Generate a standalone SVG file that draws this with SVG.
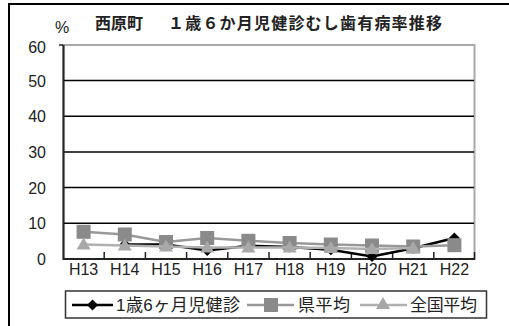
<svg xmlns="http://www.w3.org/2000/svg" width="509" height="326" viewBox="0 0 509 326">
<style>
.num{font-family:"Liberation Sans",Arial,sans-serif;font-size:16px;fill:#222}
.yl{text-anchor:end}
.xl{text-anchor:middle}
.jp{font-family:"Liberation Sans","Noto Sans CJK JP",sans-serif;font-size:17px;fill:#222}
.title{font-family:"Noto Sans CJK JP",sans-serif;font-size:16px;font-weight:bold;fill:#222}
.grid{stroke:#000;stroke-width:1.5}
.town{fill:none;stroke:#000;stroke-width:2.5}
.pref{fill:none;stroke:#999;stroke-width:2.5}
.nat{fill:none;stroke:#b0b0b0;stroke-width:2.5}
.mtown{fill:#000}
.mpref{fill:#8a8a8a}
.mnat{fill:#a8a8a8}
</style>
<defs>
<path id="dia" d="M0,-5.5 L5.5,0 L0,5.5 L-5.5,0 Z"/>
<rect id="sq" x="-7" y="-7" width="14" height="14"/>
<path id="tri" d="M0,-7 L7,5 L-7,5 Z"/>
</defs>
<rect x="0" y="0" width="509" height="326" fill="#fff"/>
<rect id="frame" x="9" y="4" width="520" height="340" fill="none" stroke="#000" stroke-width="2"/>
<g id="title">
<text class="num" x="55" y="33">%</text>
<text class="title" x="95" y="29">西原町</text>
<text class="title" x="168" y="29" textLength="274" lengthAdjust="spacing">１歳６か月児健診むし歯有病率推移</text>
</g>
<g id="axes">
<rect x="63.5" y="45" width="411" height="214" fill="#fff" stroke="#a8a8a8" stroke-width="2"/>
<line class="grid" x1="63" y1="80.5" x2="474" y2="80.5"/>
<line class="grid" x1="63" y1="116.2" x2="474" y2="116.2"/>
<line class="grid" x1="63" y1="151.9" x2="474" y2="151.9"/>
<line class="grid" x1="63" y1="187.6" x2="474" y2="187.6"/>
<line class="grid" x1="63" y1="223.3" x2="474" y2="223.3"/>
<line x1="63.5" y1="45" x2="63.5" y2="260" stroke="#222" stroke-width="2"/>
<line x1="63" y1="259" x2="475" y2="259" stroke="#222" stroke-width="2"/>
<g stroke="#222" stroke-width="1.5">
<line x1="59" y1="45" x2="63" y2="45"/>
<line x1="104.2" y1="252" x2="104.2" y2="259"/>
<line x1="145.4" y1="252" x2="145.4" y2="259"/>
<line x1="186.6" y1="252" x2="186.6" y2="259"/>
<line x1="227.8" y1="252" x2="227.8" y2="259"/>
<line x1="269" y1="252" x2="269" y2="259"/>
<line x1="310.2" y1="252" x2="310.2" y2="259"/>
<line x1="351.4" y1="252" x2="351.4" y2="259"/>
<line x1="392.6" y1="252" x2="392.6" y2="259"/>
<line x1="433.8" y1="252" x2="433.8" y2="259"/>
<line x1="474.5" y1="252" x2="474.5" y2="259"/>
</g>
<text class="num yl" x="46" y="53">60</text>
<text class="num yl" x="46" y="87">50</text>
<text class="num yl" x="46" y="122">40</text>
<text class="num yl" x="46" y="158">30</text>
<text class="num yl" x="46" y="194">20</text>
<text class="num yl" x="46" y="229">10</text>
<text class="num yl" x="46" y="265">0</text>
<text class="num xl" x="83.6" y="275">H13</text>
<text class="num xl" x="124.8" y="275">H14</text>
<text class="num xl" x="166" y="275">H15</text>
<text class="num xl" x="207.2" y="275">H16</text>
<text class="num xl" x="248.4" y="275">H17</text>
<text class="num xl" x="289.6" y="275">H18</text>
<text class="num xl" x="330.8" y="275">H19</text>
<text class="num xl" x="372" y="275">H20</text>
<text class="num xl" x="413.2" y="275">H21</text>
<text class="num xl" x="454.4" y="275">H22</text>
</g>
<g id="connectors">
<polyline class="town" points="124.8,244.4 166,244.4 207.2,250.5 248.4,245.8 289.6,246.9 330.8,249.7 372,256.5 413.2,248.3 454.4,238"/>
<g class="mtown">
<use href="#dia" x="124.8" y="244.4"/><use href="#dia" x="166" y="244.4"/><use href="#dia" x="207.2" y="250.5"/><use href="#dia" x="248.4" y="245.8"/><use href="#dia" x="289.6" y="246.9"/><use href="#dia" x="330.8" y="249.7"/><use href="#dia" x="372" y="256.5"/><use href="#dia" x="413.2" y="248.3"/><use href="#dia" x="454.4" y="238"/>
</g>
<polyline class="pref" points="83.6,231.8 124.8,234.5 166,242 207.2,238 248.4,240.8 289.6,243 330.8,244.5 372,245.5 413.2,246.5 454.4,245.2"/>
<g class="mpref">
<use href="#sq" x="83.6" y="231.8"/><use href="#sq" x="124.8" y="234.5"/><use href="#sq" x="166" y="242"/><use href="#sq" x="207.2" y="238"/><use href="#sq" x="248.4" y="240.8"/><use href="#sq" x="289.6" y="243"/><use href="#sq" x="330.8" y="244.5"/><use href="#sq" x="372" y="245.5"/><use href="#sq" x="413.2" y="246.5"/><use href="#sq" x="454.4" y="245.2"/>
</g>
<polyline class="nat" points="83.6,244.5 124.8,245.5 166,246.5 207.2,247.5 248.4,247.5 289.6,247.5 330.8,248 372,249 413.2,248"/>
<g class="mnat">
<use href="#tri" x="83.6" y="244.5"/><use href="#tri" x="124.8" y="245.5"/><use href="#tri" x="166" y="246.5"/><use href="#tri" x="207.2" y="247.5"/><use href="#tri" x="248.4" y="247.5"/><use href="#tri" x="289.6" y="247.5"/><use href="#tri" x="330.8" y="248"/><use href="#tri" x="372" y="249"/><use href="#tri" x="413.2" y="248"/>
</g>
</g>
<g id="legend">
<rect x="65.5" y="291" width="421" height="27" fill="#fff" stroke="#333" stroke-width="1.5"/>
<line class="town" x1="72" y1="305" x2="113" y2="305"/>
<use class="mtown" href="#dia" x="92.5" y="305"/>
<text class="jp" x="116" y="311" textLength="124" lengthAdjust="spacing">1歳6ヶ月児健診</text>
<line class="pref" x1="247" y1="305" x2="294" y2="305"/>
<use class="mpref" href="#sq" x="271" y="305"/>
<text class="jp" x="298" y="311" textLength="52" lengthAdjust="spacing">県平均</text>
<line class="nat" x1="360" y1="305" x2="407" y2="305"/>
<use class="mnat" href="#tri" x="383" y="304"/>
<text class="jp" x="410" y="311" textLength="67" lengthAdjust="spacing">全国平均</text>
</g>
</svg>
